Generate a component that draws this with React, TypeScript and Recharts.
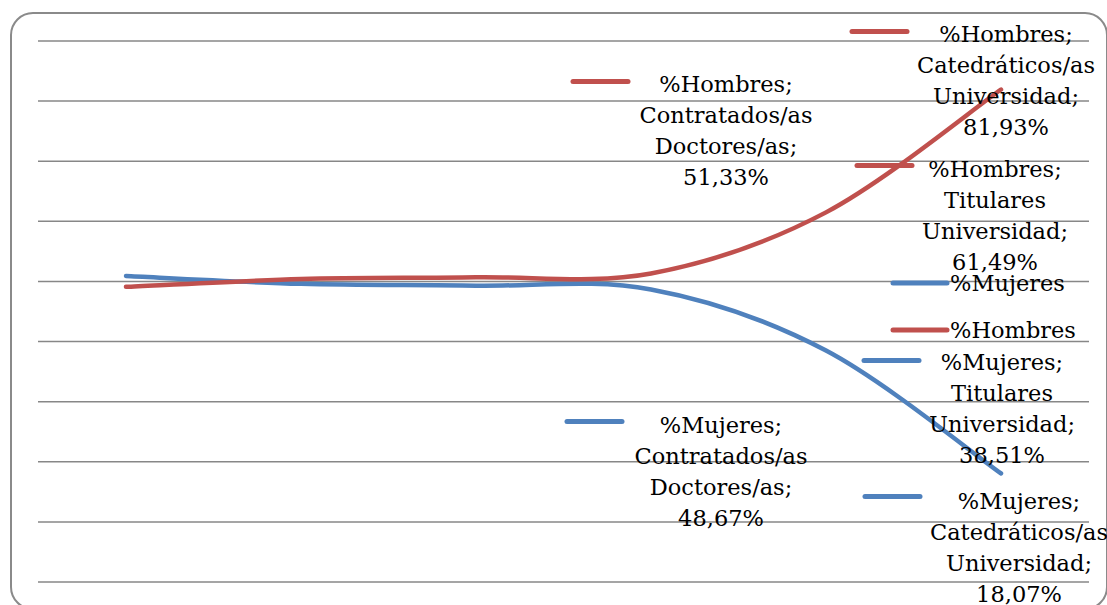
import React from 'react';
import { LineChart, Line, XAxis, YAxis, CartesianGrid, Legend, LabelList } from 'recharts';

// categories (only the last three carry labels in the picture)
const categories = [
  'Ayudantes',
  'Ayudantes Doctores/as',
  'Colaboradores/as',
  'Contratados/as Doctores/as',
  'Titulares Universidad',
  'Catedráticos/as Universidad',
];
const hombres = [49.1, 50.4, 50.7, 51.33, 61.49, 81.93];
const mujeres = [50.9, 49.6, 49.3, 48.67, 38.51, 18.07];
const yTicks = [0, 10, 20, 30, 40, 50, 60, 70, 80, 90];
const legendOrder = ['%Mujeres', '%Hombres'];

const RED = '#C0504D';
const BLUE = '#4F81BD';
const FONT = "'DejaVu Serif', serif";
const FONT_SIZE = 22.5;
const LINE_STEP = 31;

const data = categories.map((c, i) => ({ cat: c, hombres: hombres[i], mujeres: mujeres[i] }));

// Excel-like smoothed line (Catmull-Rom through the points)
const smoothCurve = (context: any) => {
  let pts: number[][] = [];
  return {
    areaStart() {},
    areaEnd() {},
    lineStart() { pts = []; },
    point(x: number, y: number) { pts.push([+x, +y]); },
    lineEnd() {
      if (!pts.length) return;
      context.moveTo(pts[0][0], pts[0][1]);
      for (let i = 0; i < pts.length - 1; i++) {
        const p0 = pts[i - 1] || pts[i];
        const p1 = pts[i];
        const p2 = pts[i + 1];
        const p3 = pts[i + 2] || p2;
        context.bezierCurveTo(
          p1[0] + (p2[0] - p0[0]) / 6, p1[1] + (p2[1] - p0[1]) / 6,
          p2[0] - (p3[0] - p1[0]) / 6, p2[1] - (p3[1] - p1[1]) / 6,
          p2[0], p2[1],
        );
      }
    },
  };
};

// label placement, relative to the data point (kx/ky = legend key, tx/ty = text)
const LABEL_POS: Record<string, Record<number, { kx: number; ky: number; tx: number; ty: number }>> = {
  '%Hombres': {
    3: { kx: -78, ky: -192, tx: 75, ty: -181 },
    4: { kx: 31, ky: -47, tx: 169, ty: -35 },
    5: { kx: -149, ky: -58, tx: 5, ty: -48 },
  },
  '%Mujeres': {
    3: { kx: -84, ky: 132, tx: 70, ty: 144 },
    4: { kx: 38, ky: 10, tx: 176, ty: 19 },
    5: { kx: -136, ky: 23, tx: 18, ty: 36 },
  },
};

const fmt = (v: number) => v.toFixed(2).replace('.', ',') + '%';

const makeLabel = (name: string, color: string) => (props: any) => {
  const { x, y, index, value } = props;
  const pos = LABEL_POS[name][index];
  if (!pos) return null;
  const catLines = categories[index].split(' ');
  catLines[catLines.length - 1] += ';';
  const lines = [name + ';', ...catLines, fmt(Number(value))];
  const tx = x + pos.tx;
  return (
    <g>
      <line x1={x + pos.kx} x2={x + pos.kx + 55} y1={y + pos.ky} y2={y + pos.ky}
        stroke={color} strokeWidth={5} strokeLinecap="round" />
      <text x={tx} y={y + pos.ty} textAnchor="middle" fontFamily={FONT} fontSize={FONT_SIZE} fill="#000">
        {lines.map((l, i) => (
          <tspan key={i} x={tx} dy={i === 0 ? 0 : LINE_STEP}>{l}</tspan>
        ))}
      </text>
    </g>
  );
};

const renderLegend = (props: any) => {
  const items = [...props.payload].sort(
    (a: any, b: any) => legendOrder.indexOf(a.value) - legendOrder.indexOf(b.value));
  return (
    <div style={{ fontFamily: FONT, fontSize: FONT_SIZE, color: '#000' }}>
      {items.map((p: any) => (
        <div key={p.value} style={{ display: 'flex', alignItems: 'center', height: 47 }}>
          <svg width={60} height={10}>
            <line x1={3} x2={57} y1={5} y2={5} stroke={p.color} strokeWidth={5} strokeLinecap="round" />
          </svg>
          <span style={{ lineHeight: '22px' }}>{p.value}</span>
        </div>
      ))}
    </div>
  );
};

export default function App() {
  return (
    <div style={{ position: 'relative', width: 1107, height: 605, overflow: 'hidden', background: '#fff' }}>
      <style>{'body{margin:0;overflow:hidden}'}</style>
      <div style={{
        position: 'absolute', left: 10, top: 12, width: 1098, height: 598,
        border: '2px solid #8a8a8a', borderRadius: 23, boxSizing: 'border-box',
      }} />
      <div style={{ position: 'absolute', left: 0, top: 0 }}>
        <LineChart width={1107} height={605} data={data}
          margin={{ top: 41, right: 18, bottom: 23, left: 38 }}>
          <CartesianGrid vertical={false} stroke="#878787" strokeWidth={1.5} />
          <XAxis dataKey="cat" hide padding={{ left: 88, right: 88 }} />
          <YAxis hide domain={[0, 90]} ticks={yTicks} />
          <Legend layout="vertical" align="center" verticalAlign="middle" content={renderLegend}
            wrapperStyle={{ position: 'absolute', left: 890, top: 259, width: 220 }} />
          <Line name="%Mujeres" dataKey="mujeres" type={smoothCurve as any} stroke={BLUE} strokeWidth={4.5}
            strokeLinecap="round" dot={false} activeDot={false} isAnimationActive={false}>
            <LabelList dataKey="mujeres" content={makeLabel('%Mujeres', BLUE)} />
          </Line>
          <Line name="%Hombres" dataKey="hombres" type={smoothCurve as any} stroke={RED} strokeWidth={4.5}
            strokeLinecap="round" dot={false} activeDot={false} isAnimationActive={false}>
            <LabelList dataKey="hombres" content={makeLabel('%Hombres', RED)} />
          </Line>
        </LineChart>
      </div>
    </div>
  );
}
